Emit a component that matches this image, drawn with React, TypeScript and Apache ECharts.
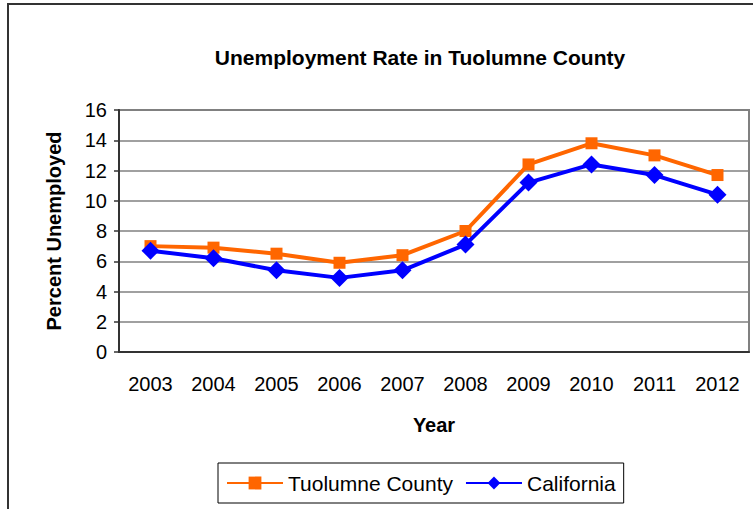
import React, { useEffect, useRef } from "react";
import * as echarts from "echarts";

const years = ["2003", "2004", "2005", "2006", "2007", "2008", "2009", "2010", "2011", "2012"];
const tuolumne = [7.0, 6.9, 6.5, 5.9, 6.4, 8.0, 12.4, 13.8, 13.0, 11.7];
const california = [6.7, 6.2, 5.4, 4.9, 5.4, 7.1, 11.2, 12.4, 11.7, 10.4];
const titleText = "Unemployment Rate in Tuolumne County";
const yTitle = "Percent Unemployed";
const xTitle = "Year";

const FONT = "'Liberation Sans', Arial, sans-serif";

export default function App() {
  const ref = useRef<HTMLDivElement>(null);
  useEffect(() => {
    if (!ref.current) return;
    const chart = echarts.init(ref.current, null, { renderer: "svg" });
    chart.setOption({
      animation: false,
      backgroundColor: "#ffffff",
      textStyle: { fontFamily: FONT, color: "#000" },
      graphic: [
        {
          type: "rect",
          shape: { x: 8, y: 4, width: 800, height: 600 },
          style: { fill: "none", stroke: "#333333", lineWidth: 2 },
          silent: true,
        },
        {
          type: "text",
          x: 420,
          y: 47,
          style: {
            text: titleText,
            font: `bold 21px ${FONT}`,
            fill: "#000",
            align: "center",
            verticalAlign: "top",
          },
        },
      ],
      grid: {
        left: 119,
        top: 110,
        right: 4,
        bottom: 157,
        show: true,
        borderColor: "#808080",
        borderWidth: 2,
      },
      legend: {
        left: 218,
        top: 463,
        padding: [9, 8, 9, 8],
        itemGap: 12,
        itemWidth: 56,
        itemHeight: 16,
        borderColor: "#000",
        borderWidth: 1,
        textStyle: { fontSize: 21, fontFamily: FONT, color: "#000", lineHeight: 22 },
        data: ["Tuolumne County", "California"],
      },
      xAxis: {
        type: "category",
        data: years,
        boundaryGap: true,
        axisLine: { show: true, lineStyle: { color: "#333333", width: 2 } },
        axisTick: { show: false },
        axisLabel: { fontSize: 20, fontFamily: FONT, color: "#000", margin: 22 },
        name: xTitle,
        nameLocation: "middle",
        nameGap: 63,
        nameTextStyle: { fontSize: 20, fontWeight: "bold", fontFamily: FONT, color: "#000" },
      },
      yAxis: {
        type: "value",
        min: 0,
        max: 16,
        interval: 2,
        axisLine: { show: true, lineStyle: { color: "#333333", width: 2 } },
        axisTick: { show: true, inside: false, length: 5, lineStyle: { color: "#333333", width: 1.5 } },
        axisLabel: { fontSize: 20, fontFamily: FONT, color: "#000", margin: 12 },
        splitLine: { show: true, lineStyle: { color: "#808080", width: 1.5 } },
        name: yTitle,
        nameLocation: "middle",
        nameGap: 55,
        nameTextStyle: { fontSize: 20, fontWeight: "bold", fontFamily: FONT, color: "#000" },
      },
      series: [
        {
          name: "Tuolumne County",
          type: "line",
          data: tuolumne,
          symbol: "rect",
          symbolSize: 12,
          lineStyle: { color: "#FF6600", width: 4 },
          itemStyle: { color: "#FF6600" },
          z: 2,
        },
        {
          name: "California",
          type: "line",
          data: california,
          symbol: "diamond",
          symbolSize: 18,
          lineStyle: { color: "#0000FF", width: 4 },
          itemStyle: { color: "#0000FF" },
          z: 3,
        },
      ],
    });
    return () => chart.dispose();
  }, []);
  return (
    <div
      ref={ref}
      style={{ position: "fixed", left: 0, top: 0, width: 753, height: 509, background: "#fff" }}
    />
  );
}
